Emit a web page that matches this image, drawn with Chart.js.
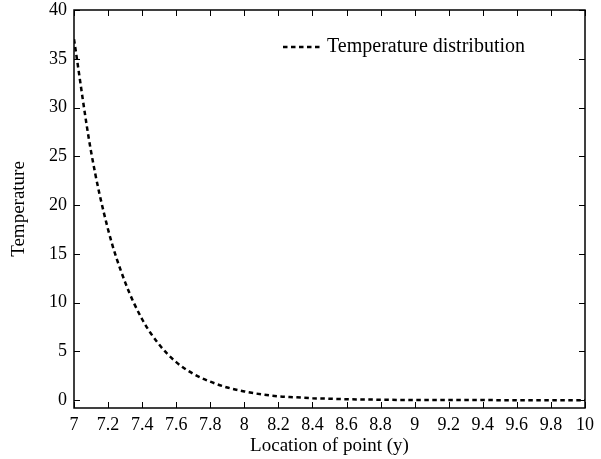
<!DOCTYPE html>
<html>
<head>
<meta charset="utf-8">
<script src="https://cdn.jsdelivr.net/npm/chart.js@4"></script>
<style>
  html, body { margin: 0; padding: 0; background: #fff; }
  #wrap { width: 601px; height: 459px; }
</style>
</head>
<body>
<div id="wrap"><canvas id="myChart" width="601" height="459"></canvas></div>
<script>
// valeurs
const locations = [7.0, 7.1, 7.2, 7.3, 7.4, 7.5, 7.6, 7.7, 7.8, 7.9, 8.0, 8.1, 8.2, 8.3, 8.4, 8.5,
  8.6, 8.7, 8.8, 8.9, 9.0, 9.2, 9.4, 9.6, 9.8, 10.0];
const temperature = [37, 25.5, 17.5, 12.1, 8.3, 5.7, 3.9, 2.7, 1.9, 1.3, 0.9, 0.6, 0.4, 0.3, 0.2, 0.15,
  0.1, 0.07, 0.05, 0.03, 0.02, 0.01, 0.01, 0, 0, 0];
const xTicks = [7, 7.2, 7.4, 7.6, 7.8, 8, 8.2, 8.4, 8.6, 8.8, 9, 9.2, 9.4, 9.6, 9.8, 10];
const yTicks = [0, 5, 10, 15, 20, 25, 30, 35, 40];

const serif = "'Liberation Serif', 'DejaVu Serif', serif";
const dash = [4.5, 3.5];

// petits traits de graduation tournés vers l'intérieur, sur les 4 côtés + légende dans le cadre
const innerTicks = {
  id: 'innerTicks',
  afterDraw(chart) {
    const { ctx, chartArea: a, scales: { x, y } } = chart;
    ctx.save();
    ctx.strokeStyle = '#000';
    ctx.lineWidth = 1;
    ctx.beginPath();
    xTicks.forEach(v => {
      const px = Math.round(x.getPixelForValue(v)) + 0.5;
      ctx.moveTo(px, a.bottom); ctx.lineTo(px, a.bottom - 6);
      ctx.moveTo(px, a.top); ctx.lineTo(px, a.top + 6);
    });
    yTicks.forEach(v => {
      const py = Math.round(y.getPixelForValue(v)) + 0.5;
      ctx.moveTo(a.left, py); ctx.lineTo(a.left + 6, py);
      ctx.moveTo(a.right, py); ctx.lineTo(a.right - 6, py);
    });
    ctx.stroke();
    ctx.lineWidth = 1.5;
    ctx.strokeRect(a.left, a.top, a.right - a.left, a.bottom - a.top);

    // légende
    const ds = chart.data.datasets[0];
    const ly = a.top + 37;
    const lx = a.left + 209;
    ctx.lineWidth = 2.5;
    ctx.setLineDash(dash);
    ctx.beginPath();
    ctx.moveTo(lx, ly); ctx.lineTo(lx + 40, ly);
    ctx.stroke();
    ctx.setLineDash([]);
    ctx.fillStyle = '#000';
    ctx.font = '20px ' + serif;
    ctx.textBaseline = 'middle';
    ctx.fillText(ds.label, lx + 44, ly);
    ctx.restore();
  }
};

new Chart(document.getElementById('myChart').getContext('2d'), {
  type: 'line',
  data: {
    datasets: [{
      label: 'Temperature distribution',
      data: locations.map((v, i) => ({ x: v, y: temperature[i] })),
      borderColor: '#000',
      backgroundColor: '#000',
      borderWidth: 2.5,
      borderDash: dash,
      pointRadius: 0,
      cubicInterpolationMode: 'monotone',
      fill: false
    }]
  },
  options: {
    responsive: false,
    animation: false,
    layout: { padding: { top: 10, right: 16, left: 0, bottom: 0 } },
    plugins: {
      tooltip: { enabled: false },
      legend: { display: false }
    },
    scales: {
      x: {
        type: 'linear',
        min: 7,
        max: 10,
        afterBuildTicks: s => { s.ticks = xTicks.map(v => ({ value: v })); },
        afterFit: s => { s.height = 51; },
        grid: { display: false, drawTicks: false },
        border: { display: false },
        ticks: { color: '#000', padding: 6, maxRotation: 0, autoSkip: false, callback: v => String(v), font: { family: serif, size: 18 } },
        title: { display: true, text: 'Location of point (y)', color: '#000', padding: { top: 0, bottom: 2 }, font: { family: serif, size: 19 } }
      },
      y: {
        min: -0.8,
        max: 40,
        afterBuildTicks: s => { s.ticks = yTicks.map(v => ({ value: v })); },
        afterFit: s => { s.width = 74; s.paddingTop = 0; s.paddingBottom = 0; },
        grid: { display: false, drawTicks: false },
        border: { display: false },
        ticks: { color: '#000', padding: 7, font: { family: serif, size: 18 } },
        title: { display: true, text: 'Temperature', color: '#000', padding: { top: 8, bottom: 0 }, font: { family: serif, size: 19 } }
      }
    }
  },
  plugins: [innerTicks]
});
</script>
</body>
</html>
